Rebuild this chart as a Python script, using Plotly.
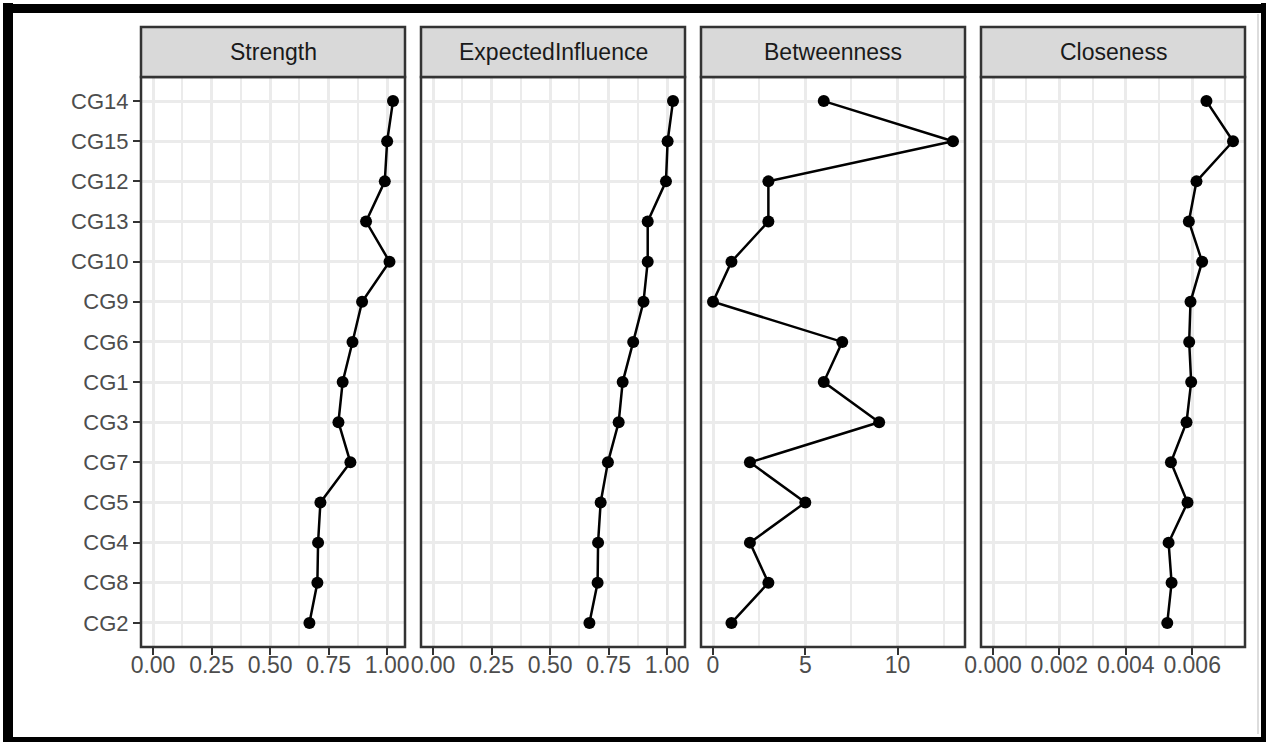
import plotly.graph_objects as go

# ---- data ----
nodes = ["CG14", "CG15", "CG12", "CG13", "CG10", "CG9", "CG6",
         "CG1", "CG3", "CG7", "CG5", "CG4", "CG8", "CG2"]
strength = [1.025, 1.000, 0.990, 0.910, 1.010, 0.893, 0.852,
            0.810, 0.792, 0.843, 0.715, 0.705, 0.702, 0.668]
expected_influence = [1.025, 1.002, 0.995, 0.917, 0.917, 0.899, 0.855,
                      0.810, 0.793, 0.747, 0.716, 0.705, 0.703, 0.668]
betweenness = [6, 13, 3, 3, 1, 0, 7, 6, 9, 2, 5, 2, 3, 1]
closeness = [0.00643, 0.00723, 0.00613, 0.00590, 0.00630, 0.00595, 0.00591,
             0.00597, 0.00583, 0.00536, 0.00586, 0.00529, 0.00538, 0.00525]

measures = ["Strength", "ExpectedInfluence", "Betweenness", "Closeness"]
values = [strength, expected_influence, betweenness, closeness]
tick_values = [[0, 0.25, 0.5, 0.75, 1.0],
               [0, 0.25, 0.5, 0.75, 1.0],
               [0, 5, 10],
               [0, 0.002, 0.004, 0.006]]
tick_labels = [["0.00", "0.25", "0.50", "0.75", "1.00"],
               ["0.00", "0.25", "0.50", "0.75", "1.00"],
               ["0", "5", "10"],
               ["0.000", "0.002", "0.004", "0.006"]]
minor_steps = [0.125, 0.125, 2.5, 0.001]

# ---- layout geometry (pixels) ----
W, H = 1267, 745
panel_left = [141, 421, 701, 981]
panel_w = 264
panel_top, panel_bottom = 77, 647
strip_top = 27


def fx(px):
    return px / W


def fy(py):
    return 1 - py / H


FONT = "Arial, Liberation Sans, sans-serif"
FS = 23
fig = go.Figure()
shapes = []
annotations = []
cat_order = list(reversed(nodes))

for i, (m, vals) in enumerate(zip(measures, values)):
    sfx = "" if i == 0 else str(i + 1)
    fig.add_trace(go.Scatter(
        x=vals, y=nodes, mode="lines+markers",
        line=dict(color="black", width=2.5),
        marker=dict(color="black", size=12),
        xaxis="x" + sfx, yaxis="y" + sfx, showlegend=False,
        hoverinfo="x+y"))
    lo = min(0, min(vals))
    hi = max(vals)
    pad = (hi - lo) * 0.05
    x0 = panel_left[i]
    x1 = x0 + panel_w
    fig.layout["xaxis" + sfx] = dict(
        domain=[fx(x0), fx(x1)], anchor="y" + sfx,
        range=[lo - pad, hi + pad],
        tickvals=tick_values[i], ticktext=tick_labels[i],
        ticks="outside", ticklen=7, tickwidth=2, tickcolor="#333333",
        ticklabelstandoff=-10,
        tickfont=dict(family=FONT, size=FS, color="#4D4D4D"),
        showgrid=True, gridcolor="#EBEBEB", gridwidth=3,
        minor=dict(dtick=minor_steps[i], tick0=0, showgrid=True,
                   gridcolor="#EBEBEB", gridwidth=1.5, ticks=""),
        zeroline=False, showline=False, automargin=False, fixedrange=True)
    fig.layout["yaxis" + sfx] = dict(
        domain=[fy(panel_bottom), fy(panel_top)], anchor="x" + sfx,
        type="category", categoryorder="array", categoryarray=cat_order,
        range=[-0.6, len(nodes) - 0.4],
        showticklabels=(i == 0),
        ticks="outside" if i == 0 else "", ticklen=7, tickwidth=2,
        tickcolor="#333333",
        tickfont=dict(family=FONT, size=22, color="#4D4D4D"),
        showgrid=True, gridcolor="#EBEBEB", gridwidth=3,
        zeroline=False, showline=False, automargin=False, fixedrange=True)
    # panel border
    shapes.append(dict(type="rect", xref="paper", yref="paper",
                       x0=fx(x0), x1=fx(x1), y0=fy(panel_bottom), y1=fy(panel_top),
                       line=dict(color="#333333", width=2.5),
                       fillcolor="rgba(0,0,0,0)", layer="above"))
    # strip
    shapes.append(dict(type="rect", xref="paper", yref="paper",
                       x0=fx(x0), x1=fx(x1), y0=fy(panel_top), y1=fy(strip_top),
                       line=dict(color="#333333", width=2.5),
                       fillcolor="#D9D9D9", layer="above"))
    annotations.append(dict(text=m, xref="paper", yref="paper",
                            x=fx((x0 + x1) / 2), y=fy((strip_top + panel_top) / 2),
                            xanchor="center", yanchor="middle", showarrow=False,
                            font=dict(family=FONT, size=FS, color="#1A1A1A")))

# outer black frame
for (a, b, c, d) in [(3, 13, 3, 742), (3, 1264, 4, 13), (1261, 1266, 3, 742), (3, 1266, 737, 742)]:
    shapes.append(dict(type="rect", xref="paper", yref="paper",
                       x0=fx(a), x1=fx(b), y0=fy(d), y1=fy(c),
                       line=dict(width=0), fillcolor="black", layer="above"))
# thin grey inner line at the right edge
shapes.append(dict(type="line", xref="paper", yref="paper",
                   x0=fx(1258), x1=fx(1258), y0=fy(734), y1=fy(14),
                   line=dict(color="#BBBBBB", width=1), layer="above"))

fig.update_layout(
    width=W, height=H,
    margin=dict(l=0, r=0, t=0, b=0),
    paper_bgcolor="white", plot_bgcolor="white",
    shapes=shapes, annotations=annotations,
    font=dict(family=FONT),
)

fig.write_html("out.html", config={"displayModeBar": False},
               post_script="document.body.style.margin='0';document.body.style.padding='0';")
